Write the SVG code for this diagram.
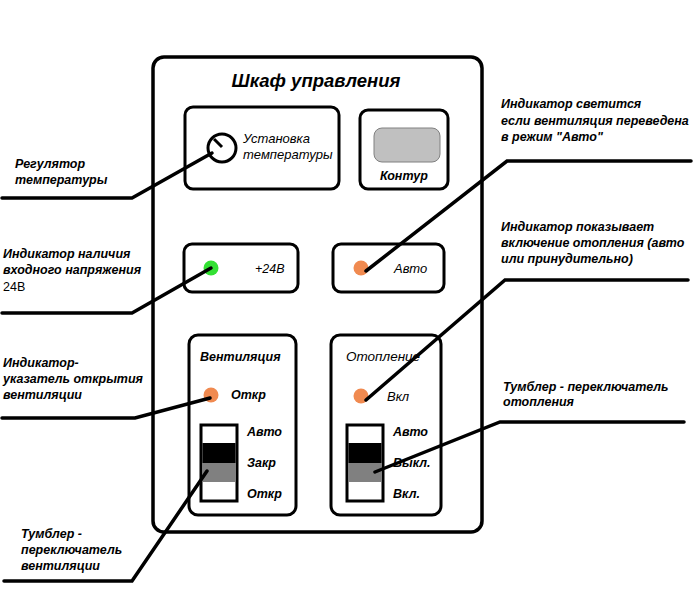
<svg xmlns="http://www.w3.org/2000/svg" width="700" height="600" viewBox="0 0 700 600">
  <style>
    .frame { fill: #ffffff; stroke: #000000; stroke-width: 3.5; }
    .panel { fill: #ffffff; stroke: #000000; stroke-width: 3; }
    .lead { fill: none; stroke: #000000; stroke-width: 3.5; stroke-linejoin: miter; stroke-linecap: round; }
    text { font-family: "Liberation Sans", Arial, sans-serif; font-style: italic; fill: #000000; }
    .title { font-size: 18.5px; font-weight: bold; }
    .note { font-size: 12.5px; font-weight: bold; }
    .lbl { font-size: 12.5px; }
    .lblb { font-size: 12.5px; font-weight: bold; }
    .led-on { fill: #f08a50; }
    .led-green { fill: #33e033; }
  </style>

  <rect width="700" height="600" fill="#ffffff"/>

  <!-- Control cabinet -->
  <g id="cabinet">
    <rect class="frame" x="153" y="57" width="329" height="475" rx="11"/>
    <text class="title" x="316" y="87" text-anchor="middle">Шкаф управления</text>
  </g>

  <!-- Temperature setting -->
  <g id="temp-setting">
    <rect class="panel" x="185" y="107" width="154" height="82" rx="8"/>
    <circle cx="222" cy="148" r="14" fill="#ffffff" stroke="#000000" stroke-width="3"/>
    <line x1="214" y1="139" x2="222" y2="147" stroke="#000000" stroke-width="3"/>
    <text class="lbl" x="243" y="143" style="font-size:13px">Установка</text>
    <text class="lbl" x="243" y="159" style="font-size:13px">температуры</text>
  </g>

  <!-- Contour -->
  <g id="contour">
    <rect class="panel" x="360" y="110" width="88" height="79" rx="8"/>
    <rect x="374" y="128" width="66" height="34" rx="8" fill="#c0c0c0" stroke="#808080" stroke-width="1"/>
    <text class="lblb" x="380" y="180">Контур</text>
  </g>

  <!-- Supply indicator -->
  <g id="supply">
    <rect class="panel" x="184" y="244" width="114" height="48" rx="8"/>
    <circle class="led-green" cx="211" cy="268" r="7.5"/>
    <text class="lbl" x="255" y="273">+24В</text>
  </g>

  <!-- Auto indicator -->
  <g id="auto">
    <rect class="panel" x="333" y="244" width="111" height="48" rx="8"/>
    <circle class="led-on" cx="361" cy="268" r="7.5"/>
    <text class="lbl" x="394" y="273" style="font-size:13px">Авто</text>
  </g>

  <!-- Ventilation panel -->
  <g id="ventilation">
    <rect class="panel" x="189" y="335" width="107" height="180" rx="9"/>
    <text class="lblb" x="200" y="361">Вентиляция</text>
    <circle class="led-on" cx="211" cy="395" r="7.5"/>
    <text class="lblb" x="231" y="399">Откр</text>
    <rect x="201" y="425" width="36" height="76" fill="#ffffff" stroke="#000000" stroke-width="3"/>
    <rect x="202.5" y="443" width="33" height="20" fill="#000000"/>
    <rect x="202.5" y="463" width="33" height="19" fill="#808080"/>
    <text class="lblb" x="247" y="436">Авто</text>
    <text class="lblb" x="247" y="467">Закр</text>
    <text class="lblb" x="247" y="498">Откр</text>
  </g>

  <!-- Heating panel -->
  <g id="heating">
    <rect class="panel" x="331" y="335" width="110" height="180" rx="9"/>
    <text class="lbl" x="346" y="361" style="font-size:13.5px">Отопление</text>
    <circle class="led-on" cx="361" cy="396" r="7.5"/>
    <text class="lbl" x="387" y="401" style="font-size:13px">Вкл</text>
    <rect x="347" y="425" width="36" height="76" fill="#ffffff" stroke="#000000" stroke-width="3"/>
    <rect x="348.5" y="443" width="33" height="20" fill="#000000"/>
    <rect x="348.5" y="463" width="33" height="19" fill="#808080"/>
    <text class="lblb" x="393" y="436">Авто</text>
    <text class="lblb" x="393" y="467">Выкл.</text>
    <text class="lblb" x="393" y="498">Вкл.</text>
  </g>

  <!-- Callout texts -->
  <g id="callouts">
    <text class="note" x="15" y="168">Регулятор</text>
    <text class="note" x="15" y="184">температуры</text>

    <text class="note" x="3" y="258">Индикатор наличия</text>
    <text class="note" x="3" y="274">входного напряжения</text>
    <text class="lbl" x="3" y="291" style="font-style:normal">24В</text>

    <text class="note" x="3" y="367">Индикатор-</text>
    <text class="note" x="3" y="383">указатель открытия</text>
    <text class="note" x="3" y="399">вентиляции</text>

    <text class="note" x="21" y="538">Тумблер -</text>
    <text class="note" x="21" y="554">переключатель</text>
    <text class="note" x="21" y="570">вентиляции</text>

    <text class="note" x="501" y="108">Индикатор светится</text>
    <text class="note" x="501" y="125">если вентиляция переведена</text>
    <text class="note" x="501" y="141">в режим "Авто"</text>

    <text class="note" x="501" y="231">Индикатор показывает</text>
    <text class="note" x="501" y="247">включение отопления (авто</text>
    <text class="note" x="501" y="263">или принудительно)</text>

    <text class="note" x="503" y="391">Тумблер - переключатель</text>
    <text class="note" x="503" y="406">отопления</text>
  </g>

  <!-- Leader lines -->
  <g id="connectors">
    <polyline class="lead" points="212,153 132,198 2,198"/>
    <polyline class="lead" points="211,268 132,313 2,313"/>
    <polyline class="lead" points="210,398 135,418 2,418"/>
    <polyline class="lead" points="207,471 132,581 4,581"/>
    <polyline class="lead" points="366,271 507,161 691,161"/>
    <polyline class="lead" points="366,400 505,280 688,280"/>
    <polyline class="lead" points="375,472 500,422 684,422"/>
  </g>
</svg>
